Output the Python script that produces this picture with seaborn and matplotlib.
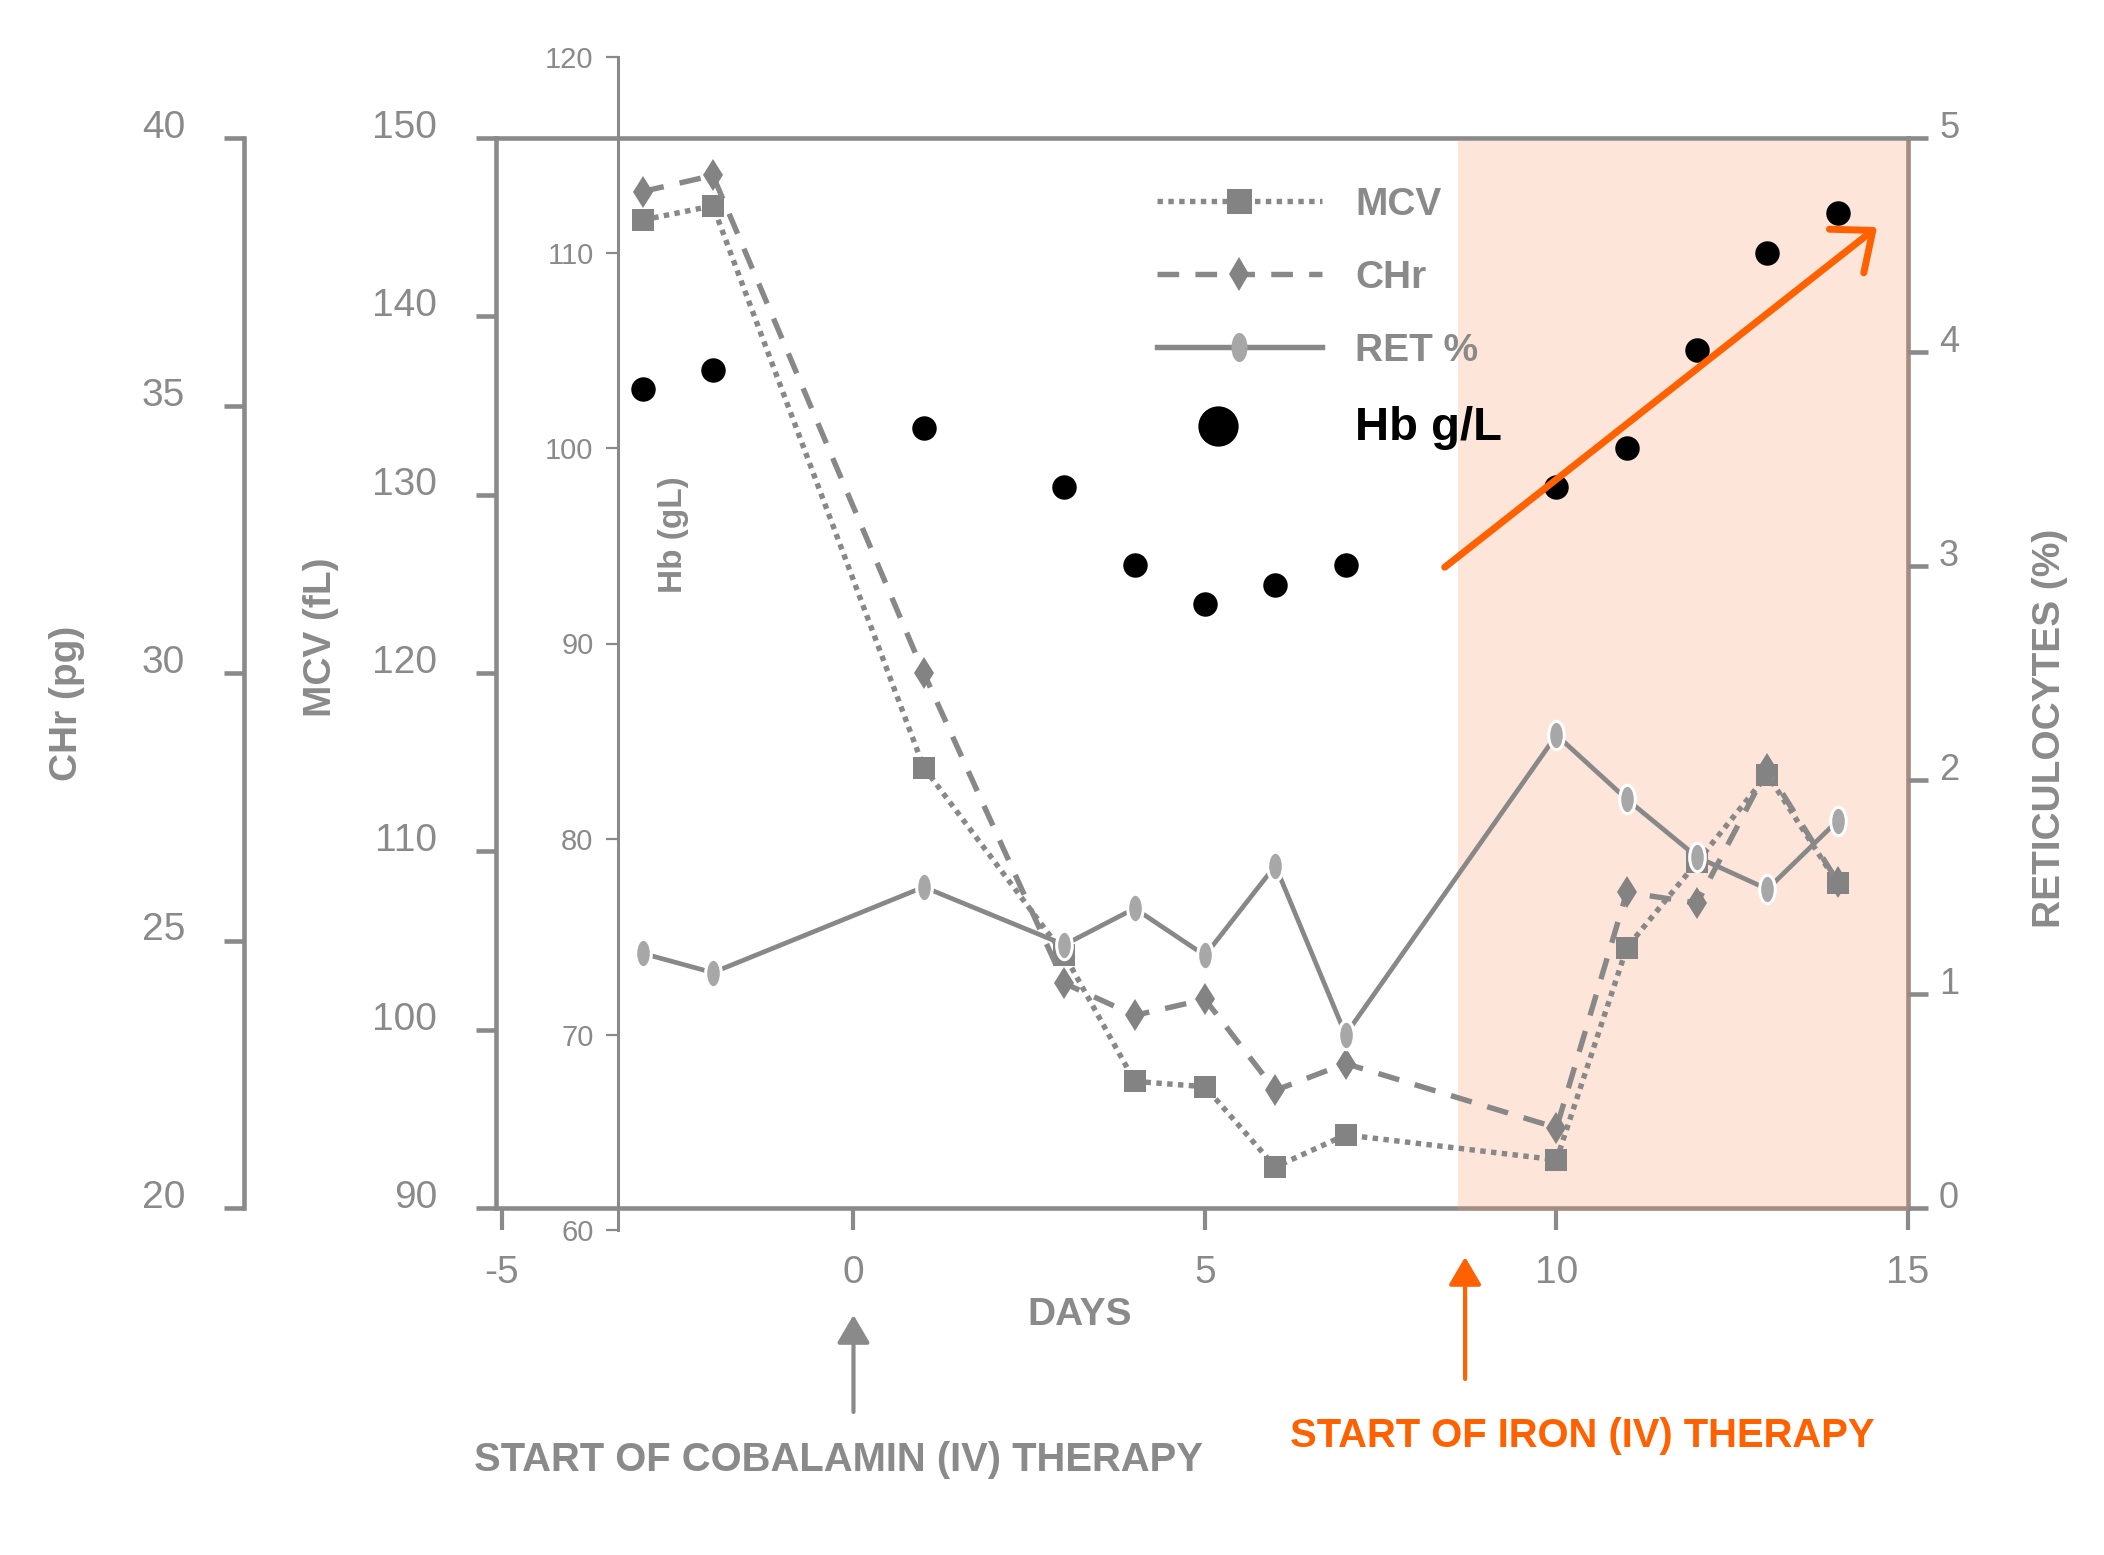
import matplotlib
matplotlib.use("Agg")
import matplotlib.pyplot as plt
import seaborn as sns
from matplotlib.lines import Line2D
from matplotlib.path import Path
from matplotlib.transforms import Affine2D
from matplotlib.legend_handler import HandlerLine2D

# ---------------- data ----------------
days = [-3, -2, 1, 3, 4, 5, 6, 7, 10, 11, 12, 13, 14]
mcv = [145.4, 146.2, 114.7, 104.2, 97.1, 96.8, 92.3, 94.1, 92.7, 104.6, 109.4, 114.3, 108.2]
chr_pg = [39.0, 39.3, 30.0, 24.2, 23.6, 23.9, 22.2, 22.7, 21.5, 25.9, 25.7, 28.2, 26.1]
ret_pct = [1.19, 1.10, 1.50, 1.23, 1.40, 1.18, 1.60, 0.81, 2.21, 1.91, 1.64, 1.49, 1.81]
hb = [103, 104, 101, 98, 94, 92, 93, 94, 98, 100, 105, 110, 112]

x_ticks = [-5, 0, 5, 10, 15]
mcv_ticks = [90, 100, 110, 120, 130, 140, 150]
chr_ticks = [20, 25, 30, 35, 40]
hb_ticks = [60, 70, 80, 90, 100, 110, 120]
ret_ticks = [0, 1, 2, 3, 4, 5]
legend_labels = ["MCV", "CHr", "RET %", "Hb g/L"]
cobalamin_day = 0
iron_day = 8.7
iron_shade_start = 8.6

# ---------------- style ----------------
GRAY = "#8a8a8a"
LINE_GRAY = "#888888"
MARK_GRAY = "#838383"
RET_FACE = "#a7a7a7"
ORANGE = "#ff6000"
FONT = "Liberation Sans"
plt.rcParams["font.family"] = [FONT, "DejaVu Sans"]
plt.rcParams["axes.unicode_minus"] = False

W, H = 2104, 1555
fig = plt.figure(figsize=(W / 100, H / 100), dpi=100)


def fx(px):
    return px / W


def fy(py):
    return 1 - py / H


L, R, T, B = 496, 1908, 138, 1208
ax = fig.add_axes([fx(L), fy(B), fx(R) - fx(L), fy(T) - fy(B)])
ax_chr = ax.twinx()
ax_ret = ax.twinx()
ax_hb = fig.add_axes([fx(L), fy(1230), fx(R) - fx(L), fy(57) - fy(1230)])
ax_hb.patch.set_visible(False)

XLIM = (-5.085, 15)

# shaded iron period (semi-transparent, over the spines like the original)
ax.axvspan(iron_shade_start, 15.04, ymin=-0.003, ymax=0.997, color=(248 / 255, 150 / 255, 100 / 255),
           alpha=0.24, lw=0, zorder=2.6, clip_on=False)

# ---------------- series ----------------
sns.lineplot(x=days, y=mcv, ax=ax, color=LINE_GRAY, lw=3.9, linestyle=(0, (1, 1)),
             marker="s", markersize=16, markerfacecolor=MARK_GRAY, markeredgecolor=MARK_GRAY,
             markeredgewidth=0, zorder=3)
sns.lineplot(x=days, y=chr_pg, ax=ax_chr, color=LINE_GRAY, lw=3.9, linestyle=(0, (4, 3)),
             marker="d", markersize=16.5, markerfacecolor=MARK_GRAY, markeredgecolor=MARK_GRAY,
             markeredgewidth=0, zorder=3)
ellipse = Path.unit_circle().transformed(Affine2D().scale(0.55, 1.0))
sns.lineplot(x=days, y=ret_pct, ax=ax_ret, color=LINE_GRAY, lw=3.4, linestyle="-",
             marker=ellipse, markersize=20.5, markerfacecolor=RET_FACE, markeredgecolor="white",
             markeredgewidth=2.2, zorder=3)
sns.scatterplot(x=days, y=hb, ax=ax_hb, color="black", s=310, linewidth=0, zorder=4)

# ---------------- axes ----------------
for a in (ax, ax_chr, ax_ret, ax_hb):
    a.set_xlim(*XLIM)

ax.set_xticks(x_ticks)
ax.set_ylim(90, 150)
ax.set_yticks(mcv_ticks)
ax_chr.set_ylim(20, 40)
ax_chr.set_yticks(chr_ticks)
ax_ret.set_ylim(0, 5)
ax_ret.set_yticks(ret_ticks)
ax_hb.set_ylim(60, 120)
ax_hb.set_yticks(hb_ticks)

for s in ax.spines.values():
    s.set_color(GRAY)
    s.set_linewidth(3.3)
for name, s in ax_chr.spines.items():
    s.set_visible(name == "left")
ax_chr.spines["left"].set_position(("axes", (244 - L) / (R - L)))
ax_chr.spines["left"].set_color(GRAY)
ax_chr.spines["left"].set_linewidth(3.3)
for s in ax_ret.spines.values():
    s.set_visible(False)
for name, s in ax_hb.spines.items():
    s.set_visible(name == "left")
ax_hb.spines["left"].set_position(("axes", (618 - L) / (R - L)))
ax_hb.spines["left"].set_color(GRAY)
ax_hb.spines["left"].set_linewidth(2.2)

ax.tick_params(axis="x", direction="out", length=16, width=3, color=GRAY,
               labelcolor=GRAY, labelsize=28, pad=18)
ax.tick_params(axis="y", direction="out", length=14.4, width=3.3, color=GRAY,
               labelcolor=GRAY, labelsize=28, pad=28, left=True, right=False)
ax_chr.yaxis.set_ticks_position("left")
ax_chr.yaxis.set_label_position("left")
ax_chr.tick_params(axis="y", direction="out", length=14.4, width=3.3, color=GRAY,
                   labelcolor=GRAY, labelsize=28, pad=28, left=True, labelleft=True,
                   right=False, labelright=False)
ax_ret.tick_params(axis="y", direction="out", length=14.4, width=3.3, color=GRAY,
                   labelcolor=GRAY, labelsize=26, pad=8, right=True, labelright=True,
                   left=False, labelleft=False)
ax_hb.tick_params(axis="x", bottom=False, labelbottom=False)
ax_hb.tick_params(axis="y", direction="out", length=8.6, width=1.6, color=GRAY,
                  labelcolor=GRAY, labelsize=21, pad=9)

lab_kw = dict(fontweight="bold", color=GRAY)
ax.set_xlabel("DAYS", fontsize=28, **lab_kw)
ax.xaxis.set_label_coords(0.4136, -0.10)
ax.set_ylabel("MCV (fL)", fontsize=28, **lab_kw)
ax.yaxis.set_label_coords(-0.1239, 0.5336)
ax_chr.set_ylabel("CHr (pg)", fontsize=28, **lab_kw)
ax_chr.yaxis.set_label_coords(-0.3038, 0.472)
ax_ret.set_ylabel("RETICULOCYTES (%)", fontsize=28, rotation=90, **lab_kw)
ax_ret.yaxis.set_label_coords(1.1006, 0.4486)
ax_hb.set_ylabel("Hb (gL)", fontsize=24, **lab_kw)
ax_hb.yaxis.set_label_coords(0.1254, 0.5925)
for lab in (ax.xaxis.label, ax.yaxis.label, ax_chr.yaxis.label, ax_ret.yaxis.label, ax_hb.yaxis.label):
    lab.set_va("center")
    lab.set_ha("center")

# ---------------- annotations ----------------
ax_hb.annotate("", xy=(14.56, 111.3), xytext=(8.41, 93.9),
               arrowprops=dict(arrowstyle="->,head_length=1.2,head_width=1.0", color=ORANGE,
                               lw=5, mutation_scale=20, shrinkA=0, shrinkB=0), zorder=6)

ax.annotate("", xy=(cobalamin_day, fy(1315)), xycoords=("data", "figure fraction"),
            xytext=(cobalamin_day, fy(1412)), textcoords=("data", "figure fraction"),
            arrowprops=dict(arrowstyle="-|>,head_length=0.85,head_width=0.5", color=GRAY,
                            lw=3, mutation_scale=20, shrinkA=0, shrinkB=0),
            annotation_clip=False)
ax.annotate("", xy=(iron_day, fy(1257)), xycoords=("data", "figure fraction"),
            xytext=(iron_day, fy(1379)), textcoords=("data", "figure fraction"),
            arrowprops=dict(arrowstyle="-|>,head_length=0.85,head_width=0.5", color=ORANGE,
                            lw=3, mutation_scale=20, shrinkA=0, shrinkB=0),
            annotation_clip=False)

fig.text(fx(839), fy(1460), "START OF COBALAMIN (IV) THERAPY", ha="center", va="center",
         fontsize=28.8, fontweight="bold", color=GRAY)
fig.text(fx(1582), fy(1436), "START OF IRON (IV) THERAPY", ha="center", va="center",
         fontsize=28.8, fontweight="bold", color=ORANGE)

# ---------------- legend ----------------
handles = [
    Line2D([], [], color=LINE_GRAY, lw=3.9, ls=(0, (1, 1)), marker="s", ms=18,
           mfc=MARK_GRAY, mec=MARK_GRAY, mew=0),
    Line2D([], [], color=LINE_GRAY, lw=3.9, ls=(0, (4, 3)), marker="d", ms=17.5,
           mfc=MARK_GRAY, mec=MARK_GRAY, mew=0),
    Line2D([], [], color=LINE_GRAY, lw=3.9, ls="-", marker=ellipse, ms=21,
           mfc=RET_FACE, mec="white", mew=0),
    Line2D([], [], ls="none", marker="o", ms=29, color="black", mew=0),
]
leg = fig.legend(handles, legend_labels, loc="upper left", bbox_to_anchor=(fx(1157), fy(187)),
                 frameon=False, borderpad=0, borderaxespad=0, handlelength=4.24,
                 handletextpad=0.85, labelspacing=0.95,
                 handler_map={handles[3]: HandlerLine2D(xpad=-1.08)},
                 prop={"family": FONT, "weight": "bold", "size": 28})
texts = leg.get_texts()
for t in texts[:3]:
    t.set_color(GRAY)
texts[3].set_color("black")
texts[3].set_fontsize(34)

# tick labels sit slightly above their ticks, as in the original
for a in (ax, ax_chr, ax_ret):
    for lab in a.get_yticklabels():
        lab.set_va("baseline")

fig.savefig("out.png", dpi=100)
